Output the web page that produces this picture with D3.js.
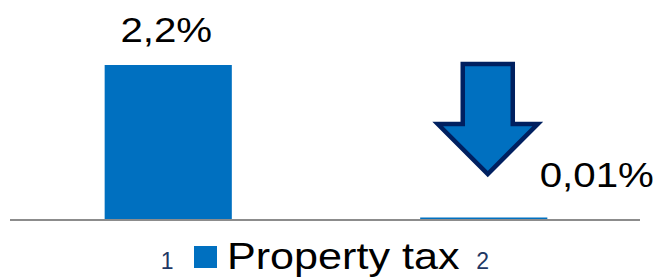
<!DOCTYPE html>
<html>
<head>
<meta charset="utf-8">
<script src="https://cdn.jsdelivr.net/npm/d3@7"></script>
<style>
  body { margin: 0; background: #fff; }
  text { font-family: "Liberation Sans", Arial, sans-serif; }
</style>
</head>
<body>
<script>
// data
var categories = ["1", "2"];
var values = [2.2, 0.01];
var valueLabels = ["2,2%", "0,01%"];
var seriesName = "Property tax";

var width = 663, height = 279;
var baseY = 219;
var stretch = 1.15; // text in the original is a bit wide

var svg = d3.select("body").append("svg")
    .attr("width", width)
    .attr("height", height);

var x = d3.scaleBand()
    .domain(categories)
    .range([10, 642])
    .paddingInner(0.597)
    .paddingOuter(0.3);

var y = d3.scaleLinear()
    .domain([0, 2.2])
    .range([baseY, 65]);

// bars
svg.selectAll(".bar")
    .data(values)
    .enter().append("rect")
    .attr("class", "bar")
    .attr("x", function(d, i) { return x(categories[i]); })
    .attr("y", function(d) { return Math.min(y(d), baseY - 1.5); })
    .attr("width", x.bandwidth())
    .attr("height", function(d) { return Math.max(baseY - y(d), 1.5); })
    .style("fill", "#0070C0");

// axis line
svg.append("line")
    .attr("x1", 10).attr("x2", 640)
    .attr("y1", baseY + 1).attr("y2", baseY + 1)
    .style("stroke", "#8c8c8c")
    .style("stroke-width", 2);

// category labels
var xAxis = svg.append("g")
    .attr("transform", "translate(0," + baseY + ")")
    .call(d3.axisBottom(x).tickSize(0).tickPadding(0));
xAxis.attr("font-family", null).attr("font-size", null);
xAxis.select(".domain").remove();
xAxis.selectAll(".tick text")
    .attr("y", 50)
    .attr("dy", 0)
    .attr("x", -1)
    .style("font-size", "23px")
    .attr("fill", "#1F3864");

// value labels
function stretchedText(px, py, size, anchor, str) {
  svg.append("text")
      .attr("transform", "translate(" + px + "," + py + ") scale(" + stretch + ",1)")
      .attr("text-anchor", anchor)
      .style("font-size", size + "px")
      .text(str);
}

stretchedText(x(categories[0]) + x.bandwidth() / 2 - 2, 42, 35, "middle", valueLabels[0]);
stretchedText(x(categories[1]) + x.bandwidth() / 2 + 113, 187, 35, "middle", valueLabels[1]);

// down arrow
var cx = x(categories[1]) + x.bandwidth() / 2 + 4;
var arrow = [
  [cx - 25, 64], [cx + 25, 64], [cx + 25, 124], [cx + 50, 124],
  [cx, 174], [cx - 50, 124], [cx - 25, 124]
];
svg.append("path")
    .attr("d", d3.line()(arrow) + "Z")
    .style("fill", "#0070C0")
    .style("stroke", "#002060")
    .style("stroke-width", 4.5)
    .style("stroke-linejoin", "miter");

// legend
svg.append("rect")
    .attr("x", 194).attr("y", 246)
    .attr("width", 23).attr("height", 22)
    .style("fill", "#0070C0");
stretchedText(227, 269, 37.5, "start", seriesName);
</script>
</body>
</html>
